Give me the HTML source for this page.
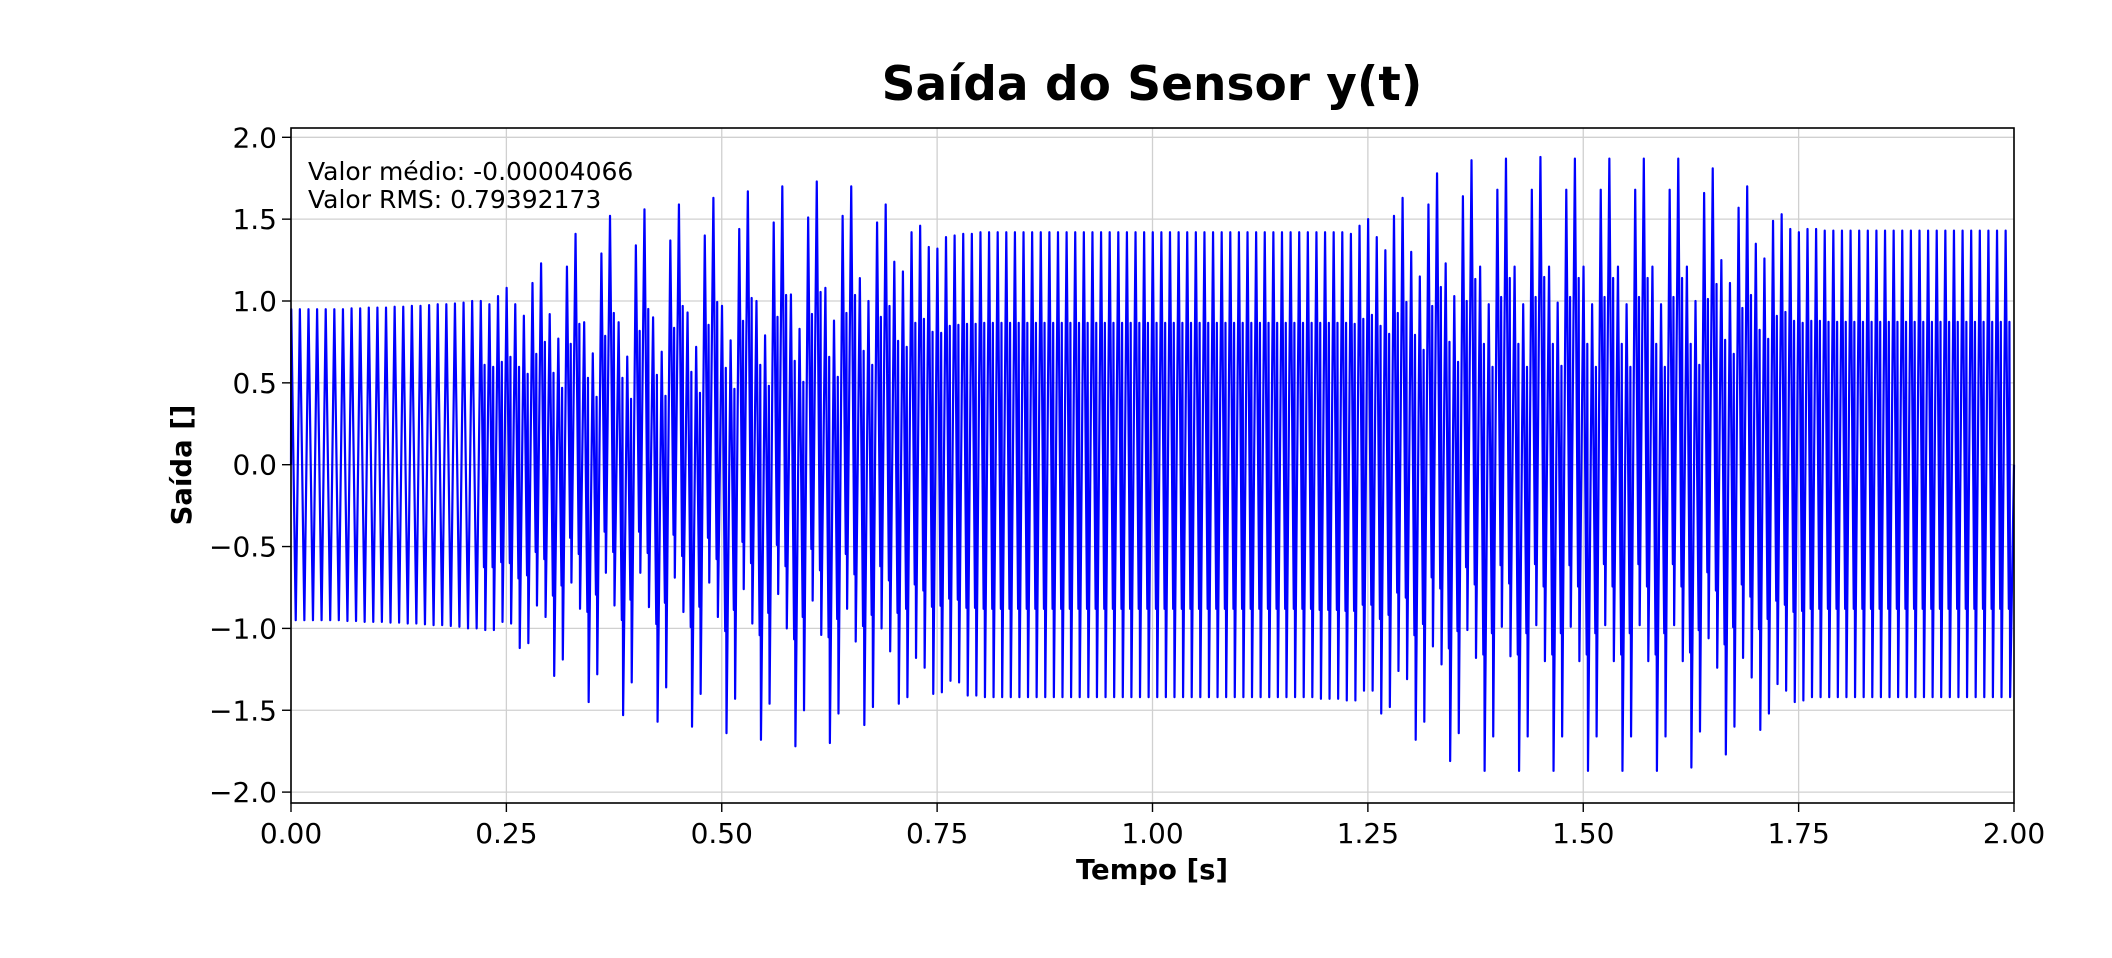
<!DOCTYPE html>
<html><head><meta charset="utf-8"><style>
html,body{margin:0;padding:0;background:#fff;}
svg{display:block;font-family:"DejaVu Sans","Liberation Sans",sans-serif;}
</style></head><body>
<svg id="chart" width="2112" height="958" viewBox="0 0 2112 958" xmlns="http://www.w3.org/2000/svg">
<rect x="0" y="0" width="2112" height="958" fill="#fff"/>
<g id="grid"></g>
<g id="series"></g>
<rect x="291" y="128" width="1723" height="675" fill="none" stroke="#000" stroke-width="1.6"/>
<g id="xticks"></g>
<g id="yticks"></g>
<text x="1152" y="100" text-anchor="middle" font-size="47" font-weight="bold">Saída do Sensor y(t)</text>
<text x="1152" y="879" text-anchor="middle" font-size="27.5" font-weight="bold">Tempo [s]</text>
<text x="0" y="0" transform="translate(191,465) rotate(-90)" text-anchor="middle" font-size="27.5" font-weight="bold">Saída []</text>
<text x="308" y="180" font-size="25">Valor médio: -0.00004066</text>
<text x="308" y="208" font-size="25">Valor RMS: 0.79392173</text>
</svg>
<script>
const period = 0.01;
const topsStart = [0.95,0.95,0.95,0.95,0.95,0.95,0.95,0.955,0.955,0.96,0.96,0.96,0.965,0.965,0.97,0.97,0.975,0.98,0.98,0.985,0.99,1.0];
const botsStart = [-0.95,-0.95,-0.95,-0.95,-0.95,-0.95,-0.955,-0.955,-0.96,-0.96,-0.96,-0.965,-0.965,-0.97,-0.97,-0.975,-0.98,-0.98,-0.985,-0.99,-1.0,-1.0];
const topsA = [1.00,0.98,1.03,1.08,0.98,0.91,1.11,1.23,0.92,0.77,1.21,1.41,0.87,0.68,1.29,1.52,0.87,0.66,1.34,1.56,0.90,0.69,1.37,1.59,0.93,0.72,1.40,1.63];
const botsA = [-1.01,-1.01,-0.96,-0.97,-1.12,-1.09,-0.86,-0.93,-1.29,-1.19,-0.72,-0.88,-1.45,-1.28,-0.66,-0.86,-1.53,-1.33,-0.66,-0.87,-1.57,-1.36,-0.69,-0.90,-1.60,-1.40,-0.72,-0.93];
const topsB = [0.97,0.76,1.44,1.67,1.00,0.79,1.48,1.70,1.04,0.83,1.51,1.73,1.08,0.88,1.52,1.70,1.14,1.00,1.48,1.59,1.24,1.18,1.42,1.46,1.33,1.32,1.39,1.40];
const botsB = [-1.64,-1.43,-0.76,-0.97,-1.68,-1.46,-0.79,-1.00,-1.72,-1.50,-0.83,-1.04,-1.70,-1.52,-0.88,-1.08,-1.59,-1.48,-1.00,-1.14,-1.46,-1.42,-1.18,-1.24,-1.40,-1.39,-1.32,-1.33];
const topsSteady1 = [1.41,1.41,1.42,1.42,1.42,1.42,1.42,1.42,1.42,1.42,1.42,1.42,1.42,1.42,1.42,1.42,1.42,1.42,1.42,1.42,1.42,1.42,1.42,1.42,1.42,1.42,1.42,1.42,1.42,1.42,1.42,1.42,1.42,1.42,1.42,1.42,1.42,1.42,1.42,1.42,1.42,1.42,1.42,1.42];
const botsSteady1 = [-1.41,-1.41,-1.42,-1.42,-1.42,-1.42,-1.42,-1.42,-1.42,-1.42,-1.42,-1.42,-1.42,-1.42,-1.42,-1.42,-1.42,-1.42,-1.42,-1.42,-1.42,-1.42,-1.42,-1.42,-1.42,-1.42,-1.42,-1.42,-1.42,-1.42,-1.42,-1.42,-1.42,-1.42,-1.42,-1.42,-1.42,-1.42,-1.42,-1.42,-1.42,-1.43,-1.43,-1.43];
const topsC = [1.42,1.41,1.46,1.50,1.39,1.31,1.52,1.63,1.30,1.15,1.59,1.78,1.23,1.03,1.64,1.86,1.21,0.98,1.68,1.87,1.21,0.98,1.68,1.88,1.21,0.99,1.68,1.87];
const botsC = [-1.44,-1.44,-1.38,-1.38,-1.52,-1.48,-1.26,-1.31,-1.68,-1.57,-1.11,-1.22,-1.81,-1.64,-1.01,-1.18,-1.87,-1.66,-0.99,-1.17,-1.87,-1.66,-0.98,-1.20,-1.87,-1.66,-0.99,-1.20];
const topsD = [1.21,0.98,1.68,1.87,1.21,0.98,1.68,1.87,1.21,0.98,1.68,1.87,1.21,1.00,1.66,1.81,1.25,1.11,1.57,1.70,1.35,1.26,1.49,1.53,1.44,1.42,1.44,1.44];
const botsD = [-1.87,-1.66,-0.98,-1.20,-1.87,-1.66,-0.98,-1.20,-1.87,-1.66,-0.98,-1.20,-1.85,-1.63,-1.06,-1.24,-1.77,-1.60,-1.18,-1.30,-1.62,-1.52,-1.34,-1.38,-1.45,-1.44,-1.42,-1.42];
const topsSteady2 = [1.43,1.43,1.43,1.43,1.43,1.43,1.43,1.43,1.43,1.43,1.43,1.43,1.43,1.43,1.43,1.43,1.43,1.43,1.43,1.43,1.43,1.43];
const botsSteady2 = [-1.42,-1.42,-1.42,-1.42,-1.42,-1.42,-1.42,-1.42,-1.42,-1.42,-1.42,-1.42,-1.42,-1.42,-1.42,-1.42,-1.42,-1.42,-1.42,-1.42,-1.42,-1.42];
const xTickLabels = ["0.00","0.25","0.50","0.75","1.00","1.25","1.50","1.75","2.00"];
const yTickLabels = ["−2.0","−1.5","−1.0","−0.5","0.0","0.5","1.0","1.5","2.0"];
const xTickValues = [0,0.25,0.5,0.75,1,1.25,1.5,1.75,2];
const yTickValues = [-2,-1.5,-1,-0.5,0,0.5,1,1.5,2];

const NS = "http://www.w3.org/2000/svg";
const X0 = 291, X1 = 2014, Ytop = 128, Ybot = 803;
const xMin = 0, xMax = 2, yZeroPx = 464.7, yPerUnit = 163.7;
function xs(t){ return X0 + (t - xMin) / (xMax - xMin) * (X1 - X0); }
function ys(v){ return yZeroPx - v * yPerUnit; }

const tops = [].concat(topsStart, topsA, topsB, topsSteady1, topsC, topsD, topsSteady2);
const bots = [].concat(botsStart, botsA, botsB, botsSteady1, botsC, botsD, botsSteady2);

const grid = document.getElementById('grid');
xTickValues.forEach(function(v){
  const l = document.createElementNS(NS,'line');
  l.setAttribute('x1', xs(v)); l.setAttribute('x2', xs(v));
  l.setAttribute('y1', Ytop); l.setAttribute('y2', Ybot);
  l.setAttribute('stroke', '#d0d0d0'); l.setAttribute('stroke-width', '1.3');
  
  
  grid.appendChild(l);
});
yTickValues.forEach(function(v){
  const l = document.createElementNS(NS,'line');
  l.setAttribute('x1', X0); l.setAttribute('x2', X1);
  l.setAttribute('y1', ys(v)); l.setAttribute('y2', ys(v));
  l.setAttribute('stroke', '#d0d0d0'); l.setAttribute('stroke-width', '1.3');
  
  
  grid.appendChild(l);
});

// waveform
let d = "M" + xs(0).toFixed(2) + "," + ys(0).toFixed(2);
for (let i = 0; i < tops.length; i++) {
  const t0 = i * period, T = tops[i], B = bots[i];
  d += " L" + xs(t0 + 0.03*period).toFixed(2) + "," + ys(T).toFixed(2);
  if (i >= topsStart.length) {
    d += " L" + xs(t0 + 0.40*period).toFixed(2) + "," + ys(0.62*B).toFixed(2);
    d += " L" + xs(t0 + 0.47*period).toFixed(2) + "," + ys(0.61*T).toFixed(2);
  }
  d += " L" + xs(t0 + 0.55*period).toFixed(2) + "," + ys(B).toFixed(2);
}
d += " L" + xs(2).toFixed(2) + "," + ys(0).toFixed(2);
const path = document.createElementNS(NS,'path');
path.setAttribute('d', d);
path.setAttribute('fill', 'none');
path.setAttribute('stroke', '#0000ff');
path.setAttribute('stroke-width', '2.2');
path.setAttribute('stroke-linejoin', 'round');


document.getElementById('series').appendChild(path);

const xt = document.getElementById('xticks');
xTickValues.forEach(function(v, i){
  const l = document.createElementNS(NS,'line');
  l.setAttribute('x1', xs(v)); l.setAttribute('x2', xs(v));
  l.setAttribute('y1', Ybot); l.setAttribute('y2', Ybot + 9);
  l.setAttribute('stroke', '#000'); l.setAttribute('stroke-width', '1.4');
  
  
  xt.appendChild(l);
  const tx = document.createElementNS(NS,'text');
  tx.setAttribute('x', xs(v)); tx.setAttribute('y', Ybot + 40);
  tx.setAttribute('text-anchor', 'middle'); tx.setAttribute('font-size', '28');
  tx.textContent = xTickLabels[i];
  
  
  xt.appendChild(tx);
});
const yt = document.getElementById('yticks');
yTickValues.forEach(function(v, i){
  const l = document.createElementNS(NS,'line');
  l.setAttribute('x1', X0 - 9); l.setAttribute('x2', X0);
  l.setAttribute('y1', ys(v)); l.setAttribute('y2', ys(v));
  l.setAttribute('stroke', '#000'); l.setAttribute('stroke-width', '1.4');
  
  
  yt.appendChild(l);
  const tx = document.createElementNS(NS,'text');
  tx.setAttribute('x', X0 - 14); tx.setAttribute('y', ys(v) + 10);
  tx.setAttribute('text-anchor', 'end'); tx.setAttribute('font-size', '28');
  tx.textContent = yTickLabels[i];
  
  
  yt.appendChild(tx);
});
</script>
</body></html>
